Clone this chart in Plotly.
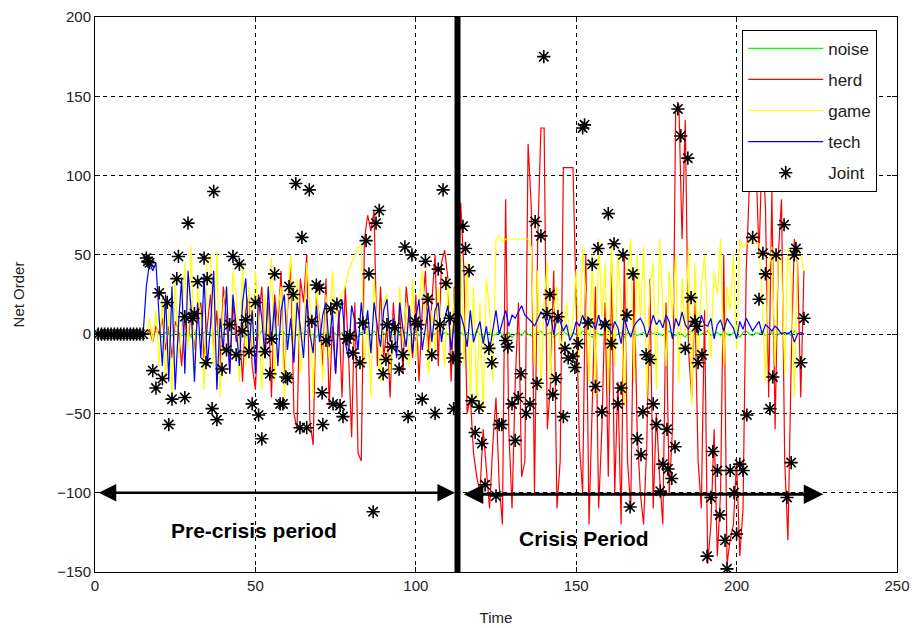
import plotly.graph_objects as go

# ---------------- data ----------------
herd = [0]*15 + [
    0, 3, -5, 5, 0, 10, -10, 5, -15, 8, 3, -20, 10, -5, 15,
    -10, 12, 20, -15, 5, 25, -10, 15, -20, 30, 10, -25, 20, -5, 5,
    -30, 15, 25, -20, -35, 10, 30, -15, 20, -40, 25, 5, 40, -30, 15,
    45, -50, -60, 35, 20, 50, -55, -70, 25, 10, -20, 35, -45, 5, -25,
    15, -40, 30, -10, -65, 20, -75, -80, 60, 75, 65, 78, -20, 30, -15,
    5, -40, 20, -10, 15, -25, 30, 10, -15, 25, -30, 15, 40, -10, 20,
    50, -20, 45, 53, 35, -30, 30, 10,
    83, 40, -50, -40, -75, -90, -100, -60, -85, -110, -70, -40,
    -95, -120, 85, -60, -110, -30, 20, -90, -80, 120, 80, -100, 60, 130, 130,
    -60, -30, 40, -110, -80, 105, 105, 105, 105, 20, -70, -100, 50, -120, -40,
    30, -110, -60, 20, -90, 45, -100, -30, -120, 50, -80, -110, 40, -60, -100,
    -120, -70, 35, -110, -50, -90, -120, 20, -100, -60, 140, 145, 60, 135, -10,
    -40, 20, -80, -110, 15, -145, -120, -60, -140, -100, 50, -145, -130, -120, -80,
    -140, -110, 40, 95, 115, 110, 50, 120, 80, -40, 90, -60, 50, 85, -80,
    -130, -20, 60, 45, -40, 40,
]

game = [0]*15 + [
    0, 10, -5, 15, -20, 25, -30, 20, -40, 35, -15, 5, 45, -10, 55,
    -25, 30, 10, -35, 45, 50, -20, 52, -40, 20, 30, -15, 40, 25, -30,
    45, -20, 30, -10, 40, 10, -35, 25, 0, 48, -30, 15, 30, -40, 20,
    50, -10, 35, -25, 0, 45, 20, -40, 30, 5, -30, 25, -15, 40, 10,
    20, 25, 30, 40, 45, 50, 55, 55, -20, 10, -40, 35, 5, -30, 20,
    25, -25, 10, -10, 30, -5, 20, -20, 35, -15, 20, 40, 10, -25, 15,
    -10, 30, 5, -20, 35, -5, 25, 40,
    50, -20, 45, -40, 30, -45, 20, -50, 35, 15, -30, 60,
    62, 58, 60, 60, 60, 60, 60, 60, 60, 60, 55,
    -20, 40, -35, 20, 45, -30, 15, 30, -10, 0, 20, -5, 10, 40,
    -15, 55, 25, -30, 50, -40, 60, 10, 45, -35, 55, -20, 50, 20, -45,
    40, 60, -30, 50, 10, 55, -40, 30, 45, -35, 60, 20, -20, 40, 10,
    50, -30, 35, 0, 55, -45, 45, -20, 30, 50, 10, -15, 40, 25, 60,
    -20, 30, 15, 50, -10, 60, 55, 57, 57, 57, 57, 57, 20, -30, 40,
    55, -20, 50, 45, -25, 55, 30, -40, 55, 50, 40,
]

tech = [0]*15 + [
    30, 45, 40, 45, 10, -20, 25, -30, 30, -35, 5, 35, -25, 40, 15,
    -30, 20, -15, 38, -20, 5, 40, -35, 10, -10, 30, -25, 25, 5, -20,
    20, 35, -10, 15, -25, 25, 10, -15, 30, -5, 20, -20, 15, 25, -10,
    10, -18, 20, 5, -15, 22, 0, -12, 18, -5, 12, 20, -8, 15, -25,
    10, 22, -5, -15, 18, 8, -10, 20, 0, 15, -12, 20, 5, -8, 15,
    22, -5, 10, -15, 20, 3, -8, 18, -12, 10, 22, -10, 5, 18, -5,
    15, 20, -5, 10, 18, -10, 8, 15,
    12, 5, -8, 15, -5, 2, 8, -6, 5, -10, 4, 15,
    0, 8, 15, 5, 12, 10, 14, 18, 12, 10, 8, 5, 10, 14, 12,
    5, 12, 0, 10, 8, 2, 6, -4, 0, 8, 5, 12, 6, 10, 8, 3, 12, 4, 10, 6,
    0, 8, 4, -6, 10, 3, -2, 5, 8, 10, 6, -2, 4, 12, 6, 9, 4, 12, 8, -3,
    10, 5, 14, 6, 3, 8, 10, 0, 12, 6, 5, 10, -3, 6, 9, 2, 10, 7, 4, -3,
    8, 3, 10, 6, 2, 5, 8, 0, 6, 4, 2, 5, 3, 0, 1, 0, 2, -5, 0, 1, 0,
]

noise = [0]*15 + [
    0, 1, -1, 2, 0, -2, 1, 0, -1, 2, 1, -1, 0, 2, -2, 1, 0, -1, 1, 2,
    -1, 0, 2, -2, 1, 0, -1, 1, 0, 2, -1, -2, 1, 0, 1, -1, 2, 0, -1, 1,
    0, -1, 2, 1, -2, 0, 1, -1, 0, 1, 2, -1, 0, -2, 1, 0, 1, -1, 2, 0,
    -1, 1, 0, 2, -1, 0, -2, 1, 1, 0, -1, 2, 0, -1, 1, -2, 0, 1, 2, -1,
    0, 1, -1, 0, 2, -1, 1, 0, -2, 1, 0, 2, -1, 1, 0, -1, 2, 0, 1, -1,
    1, 0, -1, 2, 0, -2, 1, 1, -1, 0, 2, -1, 0, 1, -2, 0, 1, -1, 2, 0,
    -1, 0, 1, 2, -1, 0, 1, -2, 0, 1, 2, 0, -1, 1, 0, -1, 2, 1, 0, -2,
    1, 0, -1, 1, 2, 0, -1, 0, 1, -2, 1, 0, 2, -1, 0, 1, -1, 2, 0, 1,
    0, -1, 1, 2, 0, -1, 1, 0, -2, 1, 2, 0, -1, 0, 1, 2, -1, 0, 1, -1,
    2, 0, -1, 1, 0, -2, 1, 2, 0, -1, 1, 0, 2, -1, 0, 1, -2, 0, 1, 0,
    1, -1, 2, 0, 1, 0,
]

joint_t = [
    1, 2, 3, 4, 5, 6, 7, 8, 9, 10, 11, 12, 13, 14, 15,
    16, 16.5, 17, 18, 19, 20, 21, 22.5, 23, 24, 25.5, 26, 28, 28, 29, 30.5, 31, 32,
    34, 34.6, 35, 36.5, 37, 38, 39.6, 41, 42, 43, 44, 45, 46, 47, 48, 49, 50, 51,
    52, 53, 54.5, 55, 56, 57.7,
    58.6, 59.5, 60, 60.5, 61.8, 62.6, 63.9, 64.5, 66, 66.8, 67.6, 69, 70, 70.8, 71,
    72, 73.5, 74.2, 75.4, 76.4, 77.3, 78.5, 79.5, 80.4, 82.6, 83.5, 84.5, 85.4,
    86.7, 87.6, 88.6, 89.8, 90.7, 91, 92.5, 93.5, 94.8, 96, 96.6, 97.6, 98.8,
    99.7, 100.7, 102, 103, 103.8, 105, 106, 107, 107.5, 108.5, 109.4, 110.7,
    111.6, 111.8, 112.8,
    114.7, 115.5, 116.6, 117.5, 118.5, 119.7, 120.6, 121.6, 122.8, 123.7, 125,
    126, 126.8, 128, 128.7, 130, 131, 131.9, 132.8, 134.4, 135.6, 137.2, 137.8,
    139, 139.9, 140.9, 141.8, 142.7, 143.7, 144.3, 146, 146.5, 147.5, 149, 149.6,
    150.6, 152, 152.6, 153.7, 155, 156, 156.8, 158, 159, 160, 161, 161.8, 163,
    164, 164.6, 165.8, 166.8, 167.7, 169, 170.2, 170.8, 171.8, 173, 174, 175,
    176.2, 177, 178.3, 178.6, 179.8, 180.8, 181.7, 182.6, 184, 184.8, 185.8, 187,
    187.6, 188, 189.2, 190.8, 192, 192.6, 194, 194.8, 196.4, 197, 198, 199.2,
    200, 201, 202, 203.2, 205, 207, 208.2, 209, 210.4, 211.3, 212.3, 214.8,
    215.7, 217, 218, 218.5, 220, 221,
]
joint_v = [
    0, 0, 0, 0, 0, 0, 0, 0, 0, 0, 0, 0, 0, 0, 0,
    48, 46, 45, -23, -34, 26, -28, 20, -57, -41, 35, 49, 11, -40, 70, 10, 13, 33,
    48, -18, 35, -47, 90, -54, -22, -10, 6, 49, -13, 44, 2, 9, -11, -44, 20, -51,
    -66, -11, -25, -3, 38, -44,
    -44, -27, -28, 30, 25, 95, -59, 61, -59, 91, 8, 31, 29, -37, -57,
    -4, 16, -44, 19, -45, -52, -3, -1, -12, -18, 7, 59, 38,
    -112, 70, 78, -25, -16, 6, -8, 4, -22, -13, 55, -52, 50,
    8, 6, -41, 46, 22, -13, -50, 41, 6, 91, 32, 10,
    -15, -47, -15,
    68, 54, 40, -42, -62, -46, -69, -95, -9, -18, -102,
    -57, -57, -4, -8, -44, -67, -40, -25, -50, -44, 71, -31,
    62, 175, 13, 25, -38, -28, 11, -52, -9, -15, -14, -21,
    -6, 130, 132, 7, 44, -33, 54, -49, 6, 76, -6, 57, -44,
    -34, 50, 12, -109, 38, -66, -76, -49, -13, -16, -44, -57,
    -99, -82, -60, -85, -91, -71, 142, 125, -9, 111, 23, 8,
    5, -18, -13, -140, -103, -74, -86, -114, -130, -148, -86, -100,
    -126, -82, -86, -51, 61, 22, 51, 38, -47, -27, 50, 69,
    -103, -81, 50, 54, -18, 10,
]

crisis_start = 113
x_ticks = [0, 50, 100, 150, 200, 250]
y_ticks = [-150, -100, -50, 0, 50, 100, 150, 200]

FONT = "Arial, Liberation Sans, sans-serif"

fig = go.Figure()

series = [("noise", noise, "#00ff00"), ("herd", herd, "#ff0000"),
          ("game", game, "#ffff00"), ("tech", tech, "#0000ff")]
for name, vals, col in series:
    fig.add_trace(go.Scatter(
        x=list(range(1, len(vals) + 1)), y=vals, mode="lines", name=name,
        legendgroup=name,
        line=dict(color=col, width=1.2)))

fig.add_trace(go.Scatter(
    x=joint_t, y=joint_v, mode="markers", name="Joint", legendgroup="Joint",
    marker=dict(symbol="asterisk-open", size=11, color="black",
                line=dict(color="black", width=1.6))))

# crisis divider
fig.add_shape(type="line", x0=crisis_start, x1=crisis_start, y0=-150, y1=200,
              xref="x", yref="y", line=dict(color="black", width=6), layer="above")

# arrows
fig.add_annotation(x=112.2, y=-100, ax=0.7, ay=-100, xref="x", yref="y",
                   axref="x", ayref="y", text="", showarrow=True,
                   arrowhead=2, arrowside="end+start", arrowsize=1.4,
                   arrowwidth=2.5, arrowcolor="black")
fig.add_annotation(x=227, y=-101, ax=114.5, ay=-101, xref="x", yref="y",
                   axref="x", ayref="y", text="", showarrow=True,
                   arrowhead=2, arrowside="end+start", arrowsize=1.3,
                   arrowwidth=3, arrowcolor="black")

fig.add_annotation(x=49.5, y=-124, xref="x", yref="y", text="<b>Pre-crisis period</b>",
                   showarrow=False, font=dict(family=FONT, size=21, color="black"))
fig.add_annotation(x=152.5, y=-129, xref="x", yref="y", text="<b>Crisis Period</b>",
                   showarrow=False, font=dict(family=FONT, size=21, color="black"))

axis_common = dict(
    showline=True, linecolor="black", linewidth=1, mirror="ticks",
    ticks="inside", ticklen=5, tickcolor="black",
    showgrid=True, gridcolor="black", gridwidth=1, griddash="4px,4px",
    zeroline=False, tickfont=dict(family=FONT, size=15, color="#222222"),
    automargin=False,
)

fig.update_xaxes(range=[0, 250], tickvals=x_ticks,
                 title=dict(text="Time", font=dict(family=FONT, size=15, color="#222222"),
                            standoff=19),
                 **axis_common)
fig.update_yaxes(range=[-150, 200], tickvals=y_ticks,
                 title=dict(text="Net Order", font=dict(family=FONT, size=15, color="#222222"),
                            standoff=28),
                 **axis_common)

fig.update_layout(
    width=917, height=628,
    margin=dict(l=95, r=20, t=17, b=56),
    paper_bgcolor="white", plot_bgcolor="white",
    font=dict(family=FONT, size=15, color="#222222"),
    legend=dict(x=0.807, y=0.977, xanchor="left", yanchor="top",
                bgcolor="white", bordercolor="black", borderwidth=1,
                font=dict(family=FONT, size=17, color="#222222"),
                itemwidth=75, tracegroupgap=6),
)

fig.write_html("out.html")
